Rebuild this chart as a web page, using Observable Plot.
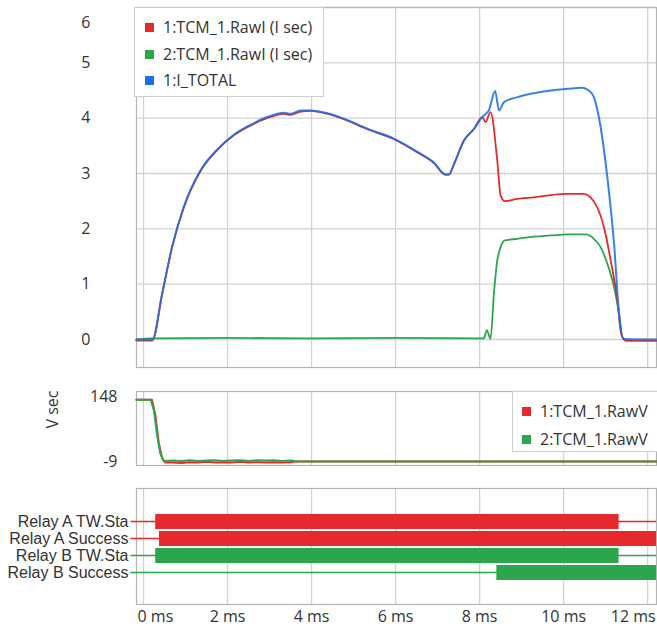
<!DOCTYPE html>
<html>
<head>
<meta charset="utf-8">
<script src="https://cdn.jsdelivr.net/npm/d3@7"></script>
<script src="https://cdn.jsdelivr.net/npm/@observablehq/plot@0.6"></script>
<style>
  html, body { margin: 0; padding: 0; background: #fff; }
  #wrap { position: relative; width: 657px; height: 628px; overflow: hidden; font-family: "Open Sans", sans-serif; color: #333; }
  #wrap > div.panel { position: absolute; left: 0; }
  .legend { position: absolute; background: #fff; border: 1px solid #cfcfcf; box-sizing: border-box; font-family: "Open Sans", sans-serif; font-size: 16px; color: #333; }
  .legend .item { position: absolute; white-space: nowrap; line-height: 20px; }
  .legend .sw { display: inline-block; width: 9px; height: 9px; margin-right: 9px; vertical-align: 1px; }
</style>
</head>
<body>
<div id="wrap"></div>
<script>
// ---------------- data ----------------
// Top panel: currents (A) vs time (ms)
const tRed  = [-0.17, 0.21, 0.445, 0.68, 0.96, 1.36, 1.75, 2.15, 2.55, 2.94, 3.34, 3.5, 3.74, 3.98, 4.37, 4.77, 5.33, 5.96, 6.52, 6.91, 7.19, 7.27, 7.39, 7.63, 7.87, 8.06, 8.14, 8.26, 8.42, 8.5, 8.6, 8.9, 9.29, 9.69, 10.09, 10.48, 10.64, 10.8, 10.96, 11.12, 11.28, 11.37, 11.48, 12.21];
const iRed  = [-0.02, -0.02, 0.83, 1.67, 2.39, 3.05, 3.42, 3.69, 3.87, 4.0, 4.08, 4.06, 4.12, 4.13, 4.08, 3.98, 3.8, 3.62, 3.38, 3.19, 2.98, 2.98, 3.17, 3.6, 3.81, 4.02, 3.93, 4.11, 3.23, 2.6, 2.5, 2.54, 2.57, 2.61, 2.63, 2.63, 2.57, 2.39, 2.03, 1.43, 0.7, 0.1, -0.02, -0.02];
const tBlue = [-0.17, 0.21, 0.445, 0.68, 0.96, 1.36, 1.75, 2.15, 2.55, 2.94, 3.34, 3.5, 3.74, 3.98, 4.37, 4.77, 5.33, 5.96, 6.52, 6.91, 7.19, 7.27, 7.39, 7.63, 7.87, 8.06, 8.22, 8.37, 8.46, 8.58, 8.9, 9.29, 9.69, 10.09, 10.44, 10.6, 10.72, 10.88, 11.04, 11.2, 11.32, 11.42, 12.21];
const iBlue = [0, 0, 0.83, 1.67, 2.4, 3.06, 3.43, 3.7, 3.88, 4.02, 4.1, 4.08, 4.14, 4.14, 4.09, 3.99, 3.81, 3.63, 3.39, 3.2, 2.98, 2.98, 3.17, 3.6, 3.81, 4.02, 4.14, 4.49, 4.14, 4.29, 4.38, 4.45, 4.5, 4.53, 4.55, 4.5, 4.38, 3.84, 2.93, 1.73, 0.46, 0.01, 0.0];
const tGreen = [-0.17, 0.2, 2.0, 4.0, 6.0, 8.1, 8.17, 8.26, 8.34, 8.42, 8.5, 8.6, 8.9, 9.29, 9.69, 10.09, 10.52, 10.72, 10.88, 11.04, 11.2, 11.32, 11.4, 11.5, 12.21];
const iGreen = [0, 0.02, 0.03, 0.02, 0.03, 0.02, 0.17, 0.01, 0.83, 1.43, 1.67, 1.79, 1.82, 1.86, 1.88, 1.9, 1.9, 1.82, 1.67, 1.37, 0.95, 0.46, 0.04, -0.02, -0.02];

// Middle panel: voltages (V) vs time (ms)
const tVRed   = [-0.17, 0.2, 0.28, 0.36, 0.44, 0.52, 0.7, 0.9, 1.1, 1.3, 1.5, 1.7, 1.9, 2.1, 2.3, 2.5, 2.7, 2.9, 3.1, 3.3, 3.5, 3.65, 12.21];
const vRed    = [148, 148, 110, 40, 0, -12, -12, -13, -11, -12, -10, -12, -11, -12, -10, -12, -11, -12, -11, -12, -11, -9, -9];
const tVGreen = [-0.17, 0.17, 0.25, 0.32, 0.4, 0.48, 0.7, 0.9, 1.1, 1.3, 1.5, 1.7, 1.9, 2.1, 2.3, 2.5, 2.7, 2.9, 3.1, 3.3, 3.5, 3.65, 12.21];
const vGreen  = [148, 148, 120, 60, 10, -8, -7, -8, -6, -8, -7, -6, -8, -7, -6, -8, -6, -7, -6, -8, -7, -9, -9];
const vTicks = [148, -9];

// Bottom panel: relay states
const relayNames = ["Relay A TW.Sta", "Relay A Success", "Relay B TW.Sta", "Relay B Success"];
const relayGroup = ["A", "A", "B", "B"];
const relayOn    = [0.29, 0.38, 0.29, 8.41];
const relayOff   = [11.32, 12.21, 11.32, 12.21];
const relayIdleStart = -0.3;

const xTicks = [0, 2, 4, 6, 8, 10, 12];
const iTicks = [0, 1, 2, 3, 4, 5, 6];

// ---------------- drawing ----------------
const RED = "#e5292c", GREEN = "#2ca64c", BLUE = "#1f6fe5";
const GRID = "#d2d2d2", FRAME = "#b4b4b4";
const xDomain = [-0.167, 12.21];
const wrap = document.getElementById("wrap");
const zip = (ts, vs) => ts.map((t, i) => ({t, v: vs[i]}));
const fmt = d => String(d).replace("−", "-");
const baseStyle = {fontFamily: "'Open Sans', sans-serif", fontSize: "16px", color: "#333", background: "transparent", overflow: "visible"};

function place(el, topPx) {
  const d = document.createElement("div");
  d.className = "panel";
  d.style.top = topPx + "px";
  d.appendChild(el);
  wrap.appendChild(d);
}

// Top panel
const topChart = Plot.plot({
  width: 657, height: 368,
  marginLeft: 136, marginRight: 1, marginTop: 7, marginBottom: 1,
  style: baseStyle,
  x: {domain: xDomain, axis: null},
  y: {domain: [-0.506, 6], axis: null},
  marks: [
    Plot.gridX(xTicks, {stroke: GRID, strokeOpacity: 1, strokeWidth: 1.3}),
    Plot.gridY(iTicks, {stroke: GRID, strokeOpacity: 1, strokeWidth: 1.3}),
    Plot.frame({stroke: FRAME, strokeWidth: 1.2}),
    Plot.line(zip(tGreen, iGreen), {x: "t", y: "v", stroke: GREEN, strokeWidth: 1.8, curve: "monotone-x"}),
    Plot.line(zip(tRed, iRed), {x: "t", y: "v", stroke: RED, strokeWidth: 1.8, curve: "monotone-x"}),
    Plot.line(zip(tBlue, iBlue), {x: "t", y: "v", stroke: BLUE, strokeWidth: 2, strokeOpacity: 0.88, curve: "monotone-x"}),
    Plot.axisY(iTicks.filter(d => d < 6), {tickSize: 0, tickPadding: 46, label: null, fill: "#333", tickFormat: fmt}),
    Plot.axisY([6], {tickSize: 0, tickPadding: 46, label: null, fill: "#333", dy: 15, tickFormat: fmt})
  ]
});
place(topChart, 0);

// Middle panel
const midChart = Plot.plot({
  width: 657, height: 100,
  marginLeft: 136, marginRight: 1, marginTop: 11, marginBottom: 15,
  style: baseStyle,
  x: {domain: xDomain, axis: null},
  y: {domain: [-19.5, 169], axis: null},
  marks: [
    Plot.gridX(xTicks, {stroke: GRID, strokeOpacity: 1, strokeWidth: 1.3}),
    Plot.frame({stroke: FRAME, strokeWidth: 1.2}),
    Plot.line(zip(tVRed, vRed), {x: "t", y: "v", stroke: RED, strokeWidth: 2}),
    Plot.line(zip(tVGreen, vGreen), {x: "t", y: "v", stroke: GREEN, strokeWidth: 2}),
    Plot.axisY([vTicks[0]], {tickSize: 0, tickPadding: 19, label: null, fill: "#333", dy: -3, tickFormat: fmt}),
    Plot.axisY([vTicks[1]], {tickSize: 0, tickPadding: 19, label: null, fill: "#333", tickFormat: fmt}),
    Plot.text(["V sec"], {frameAnchor: "left", dx: -84, rotate: -90, fill: "#333", fontSize: 16})
  ]
});
place(midChart, 380);

// Bottom panel
const relays = relayNames.map((name, i) => ({name, group: relayGroup[i], on: relayOn[i], off: relayOff[i], idle: relayIdleStart}));
const botChart = Plot.plot({
  width: 657, height: 148,
  marginLeft: 136, marginRight: 1, marginTop: 8, marginBottom: 24,
  style: baseStyle,
  x: {domain: xDomain, axis: null},
  y: {type: "point", domain: relayNames, range: [32, 100], axis: null},
  color: {domain: ["A", "B"], range: [RED, GREEN]},
  marks: [
    Plot.gridX(xTicks, {stroke: GRID, strokeOpacity: 1, strokeWidth: 1.3}),
    Plot.frame({stroke: FRAME, strokeWidth: 1.2}),
    Plot.ruleY(relays, {y: "name", x1: "idle", x2: xDomain[1], stroke: "group", strokeWidth: 1.6}),
    Plot.ruleY(relays, {y: "name", x1: "on", x2: "off", stroke: "group", strokeWidth: 15}),
    Plot.axisY(relayNames, {tickSize: 0, tickPadding: 8, label: null, fill: "#333", fontFamily: "'Liberation Sans', Arial, sans-serif", fontSize: 16}),
    Plot.axisX([2, 4, 6, 8, 10], {tickSize: 0, tickPadding: 6, label: null, fill: "#333", tickFormat: d => d + " ms"}),
    Plot.axisX([0], {tickSize: 0, tickPadding: 6, label: null, fill: "#333", tickFormat: d => d + " ms", textAnchor: "start", dx: -6}),
    Plot.axisX([12], {tickSize: 0, tickPadding: 6, label: null, fill: "#333", tickFormat: d => d + " ms", textAnchor: "end", dx: 8})
  ]
});
place(botChart, 480);

// Legends (HTML, above the SVGs)
function legend(left, topPx, width, height, items, firstY, step, textX) {
  const box = document.createElement("div");
  box.className = "legend";
  Object.assign(box.style, {left: left + "px", top: topPx + "px", width: width + "px", height: height + "px"});
  items.forEach(([label, color], i) => {
    const it = document.createElement("div");
    it.className = "item";
    it.style.left = textX + "px";
    it.style.top = (firstY + i * step - 10) + "px";
    it.innerHTML = `<span class="sw" style="background:${color}"></span>${label}`;
    box.appendChild(it);
  });
  wrap.appendChild(box);
}
const topLegendLabels = ["1:TCM_1.RawI (I sec)", "2:TCM_1.RawI (I sec)", "1:I_TOTAL"];
const midLegendLabels = ["1:TCM_1.RawV", "2:TCM_1.RawV"];
legend(134, 7, 190, 90, topLegendLabels.map((l, i) => [l, [RED, GREEN, "#1a6ef0"][i]]), 19, 26.5, 10);
legend(512, 391, 147, 61, midLegendLabels.map((l, i) => [l, [RED, GREEN][i]]), 19, 28, 9);
</script>
</body>
</html>
